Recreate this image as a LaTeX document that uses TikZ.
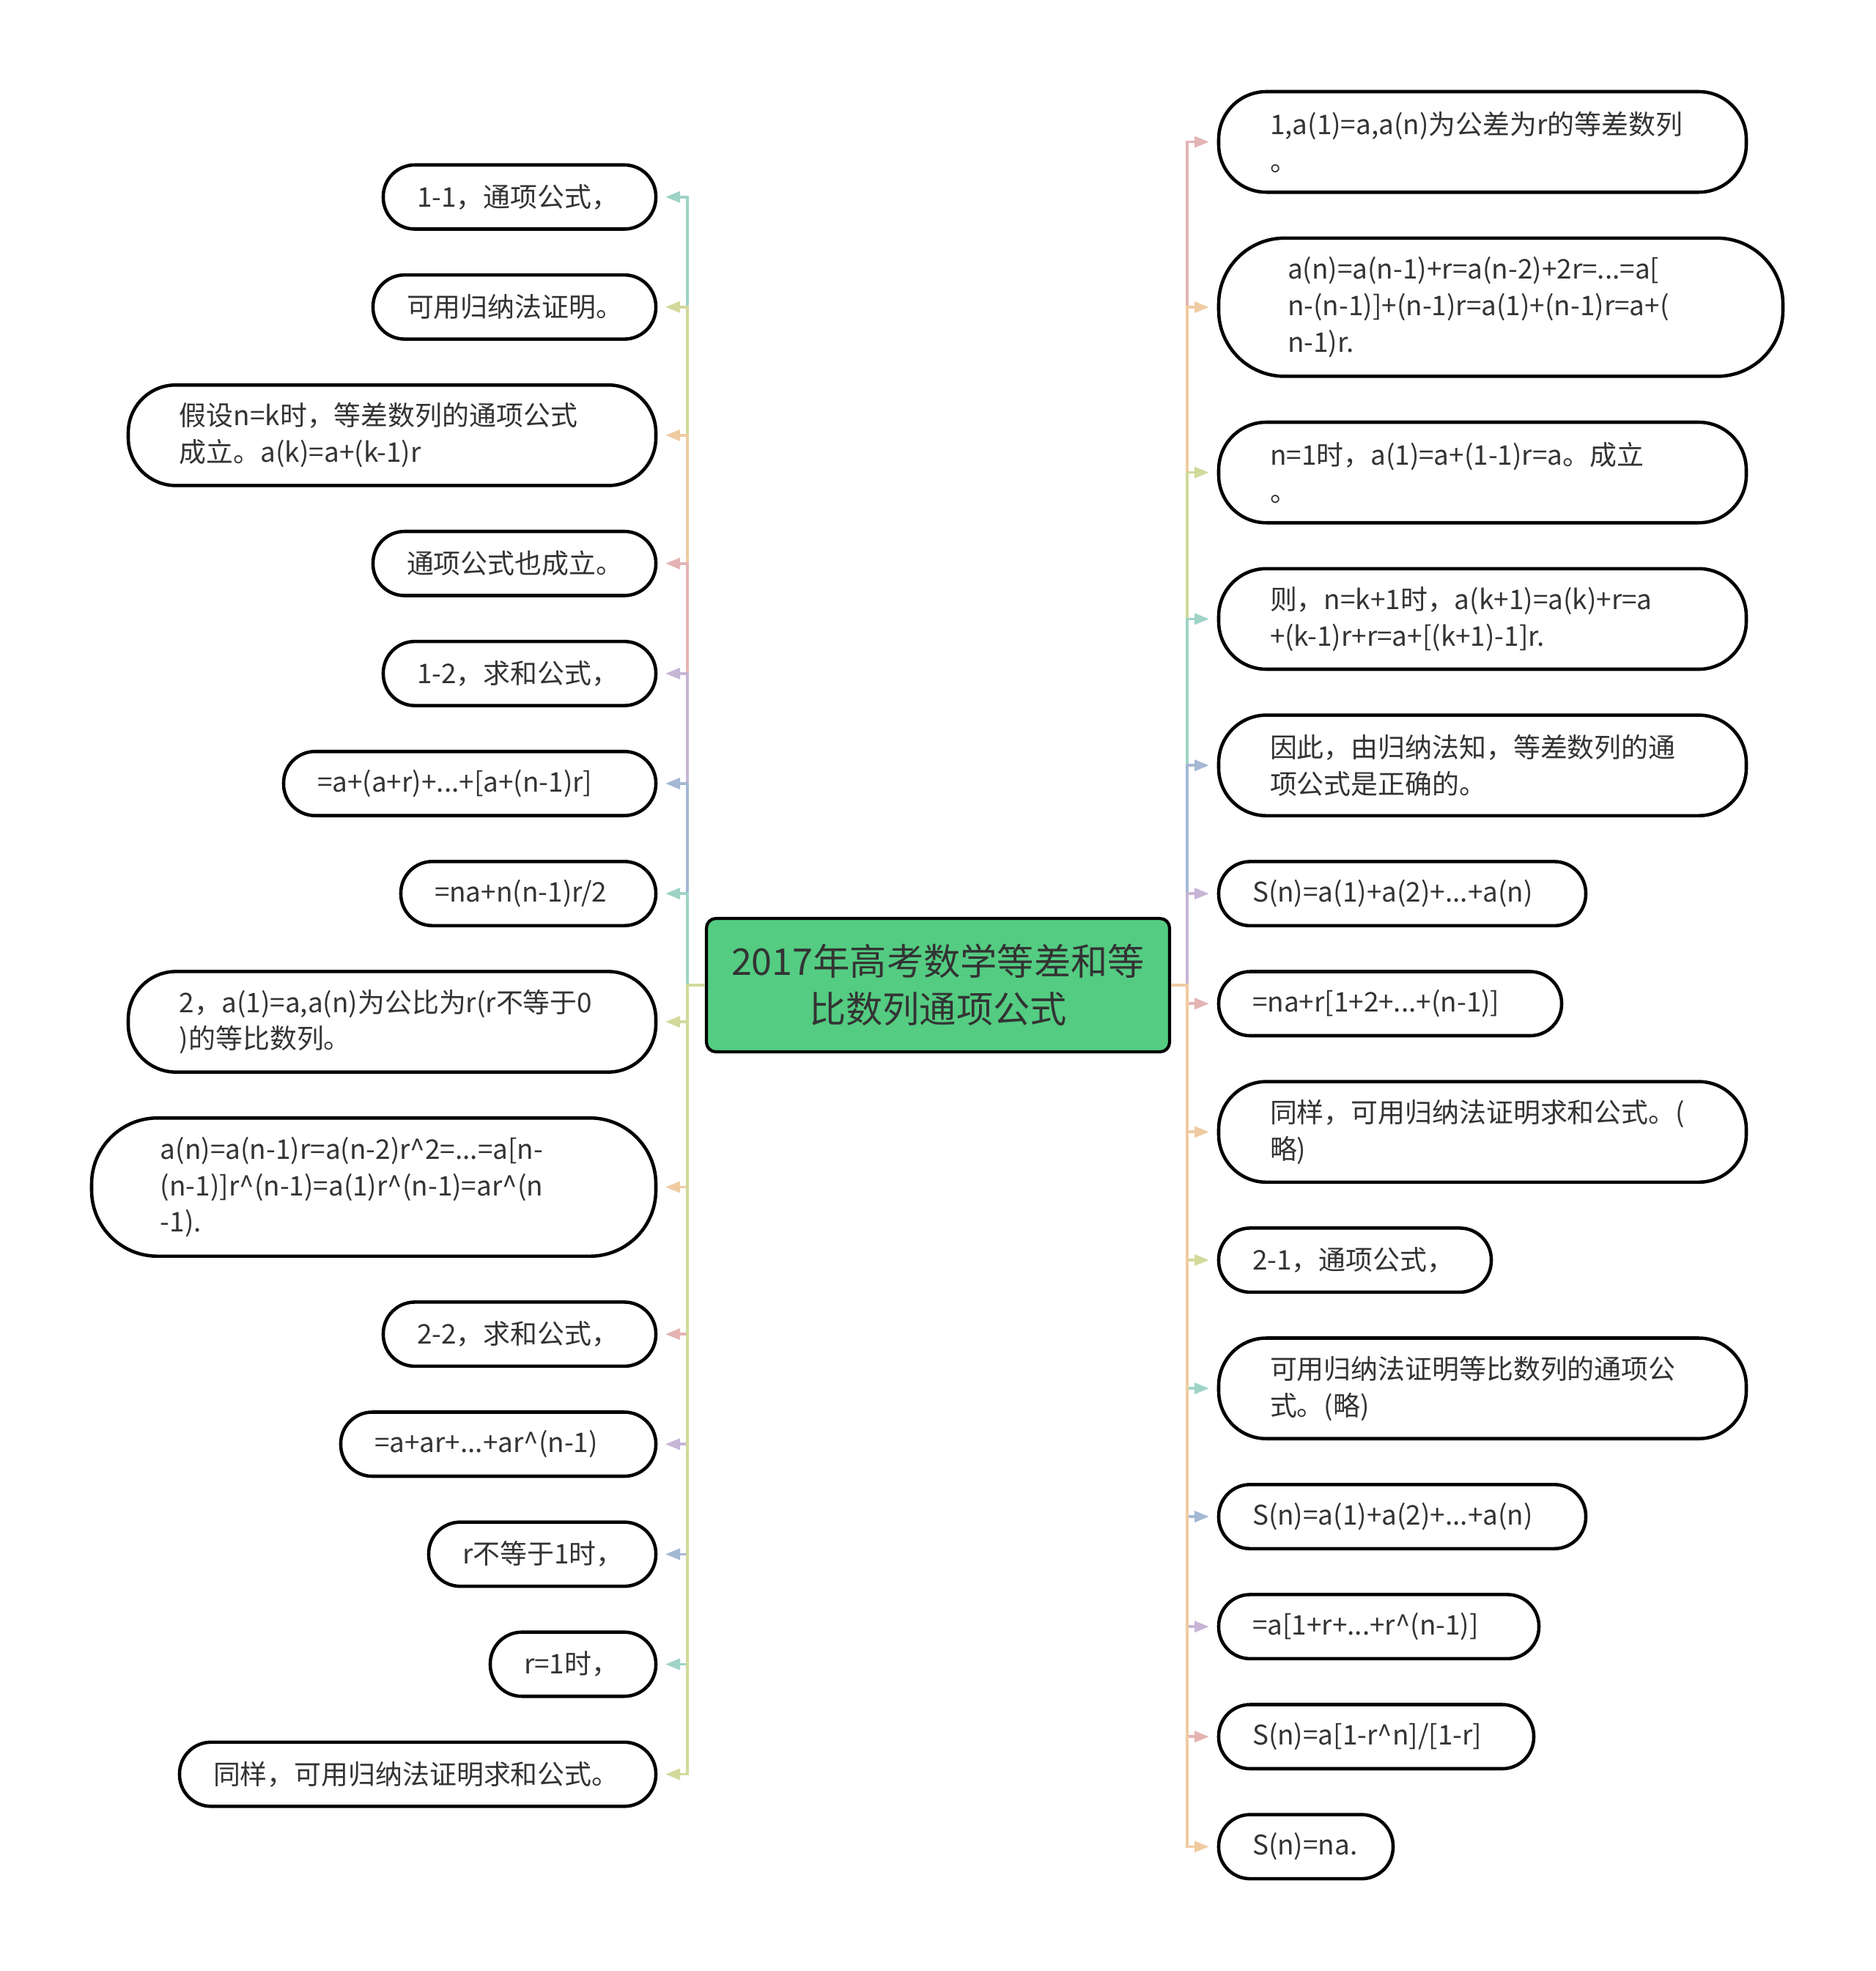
\documentclass[tikz,border=0pt]{standalone}
\usepackage{fontspec}
\setmainfont{Noto Sans CJK SC}
\usetikzlibrary{arrows.meta,positioning}

\definecolor{rootgreen}{HTML}{54CC82}
\definecolor{cpink}{HTML}{E4B4B4}
\definecolor{corange}{HTML}{F0CBA2}
\definecolor{cgreen}{HTML}{D2D99C}
\definecolor{cteal}{HTML}{9ED3C5}
\definecolor{cblue}{HTML}{A4B8D3}
\definecolor{clav}{HTML}{C6B5D5}
\definecolor{inkgray}{HTML}{333333}

\begin{document}
\begin{tikzpicture}[
  >={Triangle[length=2mm,width=1.5mm]},
  root/.style={draw=black,line width=1.2pt,fill=rootgreen,rounded corners=1.3mm,
    minimum width=6.32cm,minimum height=1.82cm,align=center,
    font=\fontsize{14.3pt}{18.5pt}\selectfont,text=inkgray},
  leaf/.style={draw=black,line width=1.3pt,fill=white,rounded corners=4.3mm,
    text width=#1,minimum height=8.75mm,inner xsep=4.6mm,outer sep=0pt,align=left,
    font=\fontsize{10.5pt}{14.2pt}\selectfont,text=inkgray},
  leafii/.style={leaf=#1,inner xsep=7mm,rounded corners=6.5mm,minimum height=13.72mm},
  leafiii/.style={leaf=#1,inner xsep=9.4mm,rounded corners=9mm,minimum height=18.86mm},
  lnext/.style={below left=6.26mm and 0mm of #1.south east},
  rnext/.style={below right=6.26mm and 0mm of #1.south west},
  link/.style={->,draw=#1,line width=1.05pt,shorten >=1.3mm}
]
  \useasboundingbox (0,0) rectangle (25.6,-26.89);

  \node[root] (root) at (12.80,-13.44) {2017年高考数学等差和等\\比数列通项公式};

  % left branch
  \node[leaf=2.80cm,anchor=north east] (l1) at (8.95,-2.25) {1-1，通项公式，};
  \node[leaf=2.94cm,lnext=l1] (l2) {可用归纳法证明。};
  \node[leafii=5.80cm,lnext=l2] (l3) {假设n=k时，等差数列的通项公式\\成立。a(k)=a+(k-1)r};
  \node[leaf=2.94cm,lnext=l3] (l4) {通项公式也成立。};
  \node[leaf=2.80cm,lnext=l4] (l5) {1-2，求和公式，};
  \node[leaf=4.16cm,lnext=l5] (l6) {=a+(a+r)+...+[a+(n-1)r]};
  \node[leaf=2.56cm,lnext=l6] (l7) {=na+n(n-1)r/2};
  \node[leafii=5.80cm,lnext=l7] (l8) {2，a(1)=a,a(n)为公比为r(r不等于0\\)的等比数列。};
  \node[leafiii=5.82cm,lnext=l8] (l9) {a(n)=a(n-1)r=a(n-2)r\textasciicircum 2=...=a[n-\\(n-1)]r\textasciicircum(n-1)=a(1)r\textasciicircum(n-1)=ar\textasciicircum(n\\-1).};
  \node[leaf=2.80cm,lnext=l9] (l10) {2-2，求和公式，};
  \node[leaf=3.38cm,lnext=l10] (l11) {=a+ar+...+ar\textasciicircum(n-1)};
  \node[leaf=2.18cm,lnext=l11] (l12) {r不等于1时，};
  \node[leaf=1.34cm,lnext=l12] (l13) {r=1时，};
  \node[leaf=5.58cm,lnext=l13] (l14) {同样，可用归纳法证明求和公式。};

  % right branch
  \node[leafii=5.80cm,anchor=north west] (r1) at (16.63,-1.25) {1,a(1)=a,a(n)为公差为r的等差数列\\。};
  \node[leafiii=5.82cm,rnext=r1] (r2) {a(n)=a(n-1)+r=a(n-2)+2r=...=a[\\n-(n-1)]+(n-1)r=a(1)+(n-1)r=a+(\\n-1)r.};
  \node[leafii=5.80cm,rnext=r2] (r3) {n=1时，a(1)=a+(1-1)r=a。成立\\。};
  \node[leafii=5.80cm,rnext=r3] (r4) {则，n=k+1时，a(k+1)=a(k)+r=a\\+(k-1)r+r=a+[(k+1)-1]r.};
  \node[leafii=5.80cm,rnext=r4] (r5) {因此，由归纳法知，等差数列的通\\项公式是正确的。};
  \node[leaf=4.09cm,rnext=r5] (r6) {S(n)=a(1)+a(2)+...+a(n)};
  \node[leaf=3.76cm,rnext=r6] (r7) {=na+r[1+2+...+(n-1)]};
  \node[leafii=5.80cm,rnext=r7] (r8) {同样，可用归纳法证明求和公式。(\\略)};
  \node[leaf=2.80cm,rnext=r8] (r9) {2-1，通项公式，};
  \node[leafii=5.80cm,rnext=r9] (r10) {可用归纳法证明等比数列的通项公\\式。(略)};
  \node[leaf=4.09cm,rnext=r10] (r11) {S(n)=a(1)+a(2)+...+a(n)};
  \node[leaf=3.45cm,rnext=r11] (r12) {=a[1+r+...+r\textasciicircum(n-1)]};
  \node[leaf=3.38cm,rnext=r12] (r13) {S(n)=a[1-r\textasciicircum n]/[1-r]};
  \node[leaf=1.46cm,rnext=r13] (r14) {S(n)=na.};

  \coordinate (ltrunk) at (9.38,-13.44);
  \coordinate (rtrunk) at (16.20,-13.44);

  % connectors
  \foreach \n/\c in {1/cteal,2/cgreen,3/corange,4/cpink,5/clav,6/cblue,7/cteal,
      8/cgreen,9/corange,10/cpink,11/clav,12/cblue,13/cteal,14/cgreen}
    \draw[link=\c] (root.west) -- (ltrunk) |- (l\n.east);
  \foreach \n/\c in {1/cpink,2/corange,3/cgreen,4/cteal,5/cblue,6/clav,7/cpink,
      8/corange,9/cgreen,10/cteal,11/cblue,12/clav,13/cpink,14/corange}
    \draw[link=\c] (root.east) -- (rtrunk) |- (r\n.west);
\end{tikzpicture}
\end{document}
